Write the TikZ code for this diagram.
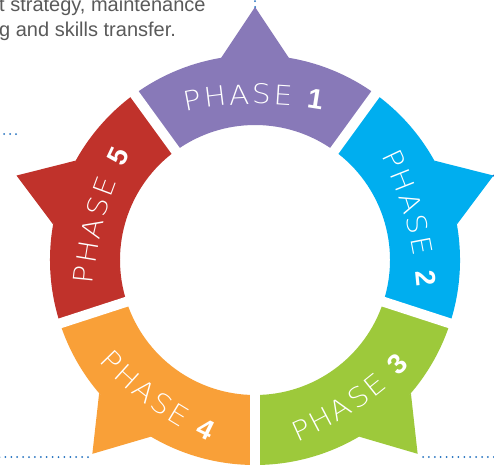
\documentclass[tikz,border=0pt]{standalone}
\usepackage{fontspec}
\usetikzlibrary{decorations.text}
\IfFontExistsTF{DejaVu Sans ExtraLight}
  {\newfontfamily\phlight{DejaVu Sans ExtraLight}[FakeStretch=1.1]}
  {\IfFontExistsTF{Fira Sans Light}
    {\newfontfamily\phlight{Fira Sans Light}[FakeStretch=1.1]}
    {\newfontfamily\phlight{DejaVu Sans}[FakeStretch=1.1]}}
\newfontfamily\numfont{Liberation Sans}
\newfontfamily\captfont{Liberation Sans}
\definecolor{ph1}{HTML}{8879B8}
\definecolor{ph2}{HTML}{00AEEF}
\definecolor{ph3}{HTML}{9DC93B}
\definecolor{ph4}{HTML}{F9A038}
\definecolor{ph5}{HTML}{C0322B}
\definecolor{dotblue}{HTML}{1E6EBE}
\definecolor{captgrey}{HTML}{5A5A5A}
\newcommand{\phA}{\phlight\fontsize{27}{27}\selectfont\kern2.2pt}
\newcommand{\phB}{\numfont\bfseries\fontsize{28}{28}\selectfont\kern3pt}
\begin{document}
\begin{tikzpicture}[x=1pt,y=1pt,
  dotline/.style={draw=dotblue, line width=2pt, dash pattern=on 0pt off 5.9pt, line cap=round},
  gap/.style={draw=white, line width=10pt},
  phtext/.style={decorate, decoration={text along path, text align=center, text color=white, text={#1}}}]
\useasboundingbox (0,0) rectangle (494,467);
\fill[white] (0,0) rectangle (494,467);
\node[font=\captfont\fontsize{20}{25}\selectfont, text=captgrey, anchor=base west, inner sep=0] (cap1) at (-1,455) {t strategy, maintenance};
\node[font=\captfont\fontsize{20}{25}\selectfont, text=captgrey, anchor=base west, inner sep=0] (cap2) at (-1,430) {g and skills transfer.};
\begin{scope}[shift={(255,207)}]
\def\rin{135}\def\rout{205}\def\rtip{253}
\coordinate (C) at (0,0);
\foreach \phi/\col/\tip in {90/ph1/90, 18/ph2/19.5, -54/ph3/-50, -126/ph4/-130, 162/ph5/160.5}{
  \fill[\col] ({\phi-36}:\rout) arc[start angle={\phi-36}, end angle={\phi+36}, radius=\rout]
     -- ({\phi+36}:\rin) arc[start angle={\phi+36}, end angle={\phi-36}, radius=\rin] -- cycle;
  \fill[\col] ({\tip-9.5}:\rout) -- (\tip:\rtip) -- ({\tip+9.5}:\rout) -- cycle;
}
\foreach \g in {54,-18,-90,-162,126}{
  \draw[gap] (C) -- (\g:215);
}
\coordinate (t1) at (90:\rtip);
\coordinate (t2) at (19.5:\rtip);
\coordinate (t4) at (-130:\rtip);
% texts (tops outward), baseline radius 156, text arc radius 350
\path[shift={(271:194)}, phtext={|\phA|PHASE |\phB|1}] (115:350) arc[start angle=115, end angle=67, radius=350];
\path[shift={(195.5:194)}, phtext={|\phA|PHASE |\phB|2}] (39.5:350) arc[start angle=39.5, end angle=-8.5, radius=350];
\path[shift={(344.5:194)}, phtext={|\phA|PHASE |\phB|5}] (188.5:350) arc[start angle=188.5, end angle=140.5, radius=350];
% texts (tops inward), baseline radius 181
\path[shift={(124:169)}, phtext={|\phA|PHASE |\phB|3}] (-80:350) arc[start angle=-80, end angle=-32, radius=350];
\path[shift={(54:169)}, phtext={|\phA|PHASE |\phB|4}] (-150:350) arc[start angle=-150, end angle=-102, radius=350];
\end{scope}
% dotted leader lines
\coordinate (d1a) at (0,333);
\coordinate (d1b) at (16,333);
\draw[dotline] (d1b) -- (d1a);
\coordinate (d2) at (255,470);
\draw[dotline] (t1) -- (d2);
\coordinate (d3) at (500,294);
\draw[dotline] (t2) -- (d3);
\coordinate (d4a) at (88,10);
\coordinate (d4b) at (-2,10);
\draw[dotline] (d4a) -- (d4b);
\coordinate (d5a) at (423,10);
\coordinate (d5b) at (500,10);
\draw[dotline] (d5a) -- (d5b);
\end{tikzpicture}
\end{document}
